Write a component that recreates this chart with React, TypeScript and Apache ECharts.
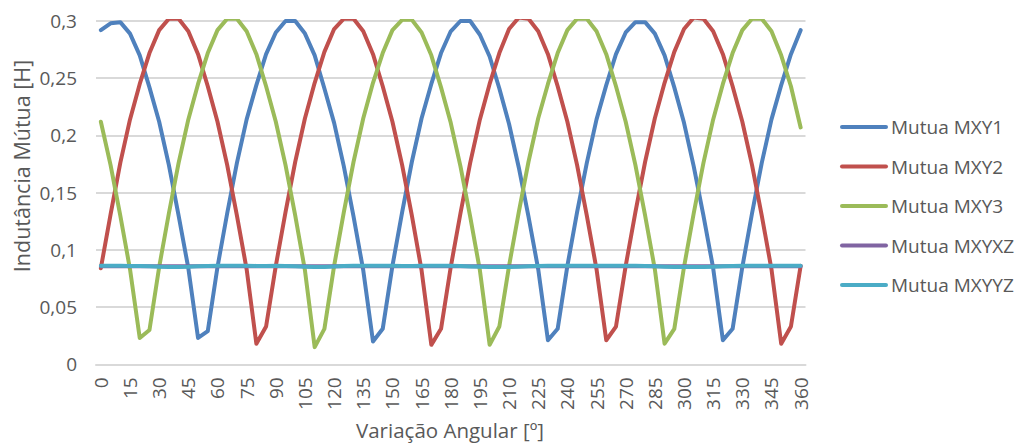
import React, { useEffect, useRef } from "react";
import * as echarts from "echarts";

// Rotor angle in degrees, one sample every 5°
const angles = [
  "0", "5", "10", "15", "20", "25", "30", "35", "40", "45",
  "50", "55", "60", "65", "70", "75", "80", "85", "90", "95",
  "100", "105", "110", "115", "120", "125", "130", "135", "140", "145",
  "150", "155", "160", "165", "170", "175", "180", "185", "190", "195",
  "200", "205", "210", "215", "220", "225", "230", "235", "240", "245",
  "250", "255", "260", "265", "270", "275", "280", "285", "290", "295",
  "300", "305", "310", "315", "320", "325", "330", "335", "340", "345",
  "350", "355", "360",
];

// Mutual inductances [H]
const mxy1 = [
  0.292, 0.298, 0.299, 0.289, 0.270, 0.242, 0.212, 0.174, 0.130, 0.084,
  0.023, 0.029, 0.085, 0.132, 0.176, 0.214, 0.244, 0.271, 0.290, 0.300,
  0.300, 0.289, 0.270, 0.241, 0.211, 0.173, 0.129, 0.082, 0.020, 0.031,
  0.086, 0.133, 0.177, 0.215, 0.245, 0.272, 0.291, 0.300, 0.300, 0.288,
  0.269, 0.241, 0.210, 0.172, 0.129, 0.083, 0.021, 0.031, 0.086, 0.133,
  0.176, 0.214, 0.244, 0.271, 0.290, 0.299, 0.299, 0.289, 0.270, 0.242,
  0.211, 0.173, 0.130, 0.084, 0.021, 0.031, 0.085, 0.132, 0.176, 0.214,
  0.244, 0.271, 0.292,
];

const mxy2 = [
  0.084, 0.131, 0.176, 0.214, 0.245, 0.272, 0.292, 0.302, 0.302, 0.291,
  0.271, 0.243, 0.212, 0.174, 0.130, 0.083, 0.018, 0.033, 0.086, 0.133,
  0.177, 0.215, 0.246, 0.273, 0.293, 0.302, 0.302, 0.291, 0.271, 0.243,
  0.212, 0.174, 0.130, 0.082, 0.017, 0.031, 0.085, 0.132, 0.176, 0.214,
  0.245, 0.272, 0.293, 0.303, 0.302, 0.291, 0.271, 0.243, 0.212, 0.174,
  0.130, 0.083, 0.021, 0.033, 0.086, 0.133, 0.177, 0.215, 0.246, 0.273,
  0.293, 0.303, 0.302, 0.291, 0.271, 0.243, 0.212, 0.174, 0.130, 0.083,
  0.018, 0.033, 0.086,
];

const mxy3 = [
  0.212, 0.174, 0.130, 0.083, 0.023, 0.030, 0.085, 0.132, 0.176, 0.214,
  0.245, 0.272, 0.292, 0.302, 0.302, 0.291, 0.271, 0.243, 0.212, 0.174,
  0.130, 0.082, 0.015, 0.031, 0.086, 0.133, 0.177, 0.215, 0.246, 0.272,
  0.292, 0.301, 0.301, 0.290, 0.270, 0.242, 0.211, 0.173, 0.129, 0.082,
  0.017, 0.033, 0.086, 0.133, 0.177, 0.215, 0.245, 0.272, 0.292, 0.302,
  0.302, 0.291, 0.271, 0.243, 0.212, 0.174, 0.130, 0.083, 0.018, 0.031,
  0.085, 0.132, 0.176, 0.214, 0.245, 0.272, 0.292, 0.302, 0.302, 0.291,
  0.270, 0.243, 0.207,
];

const mxyxz = [
  0.0857, 0.0857, 0.0857, 0.0857, 0.0856, 0.0856, 0.0856, 0.0856, 0.0856, 0.0856,
  0.0856, 0.0857, 0.0857, 0.0857, 0.0857, 0.0857, 0.0857, 0.0857, 0.0857, 0.0856,
  0.0856, 0.0856, 0.0856, 0.0856, 0.0856, 0.0857, 0.0857, 0.0857, 0.0857, 0.0857,
  0.0857, 0.0857, 0.0857, 0.0857, 0.0857, 0.0857, 0.0857, 0.0856, 0.0856, 0.0856,
  0.0856, 0.0856, 0.0856, 0.0856, 0.0856, 0.0857, 0.0857, 0.0857, 0.0857, 0.0857,
  0.0857, 0.0857, 0.0857, 0.0857, 0.0857, 0.0857, 0.0856, 0.0856, 0.0856, 0.0856,
  0.0856, 0.0856, 0.0856, 0.0856, 0.0856, 0.0857, 0.0857, 0.0857, 0.0857, 0.0857,
  0.0857, 0.0857, 0.0857,
];

const mxyyz = [
  0.0862, 0.0862, 0.0861, 0.0860, 0.0858, 0.0856, 0.0852, 0.0850, 0.0850, 0.0852,
  0.0856, 0.0860, 0.0862, 0.0862, 0.0862, 0.0861, 0.0860, 0.0860, 0.0861, 0.0860,
  0.0857, 0.0853, 0.0850, 0.0851, 0.0854, 0.0858, 0.0861, 0.0862, 0.0862, 0.0862,
  0.0861, 0.0860, 0.0860, 0.0861, 0.0862, 0.0862, 0.0861, 0.0858, 0.0855, 0.0852,
  0.0850, 0.0850, 0.0851, 0.0853, 0.0856, 0.0859, 0.0861, 0.0862, 0.0862, 0.0862,
  0.0861, 0.0861, 0.0862, 0.0862, 0.0862, 0.0861, 0.0859, 0.0856, 0.0853, 0.0851,
  0.0850, 0.0850, 0.0851, 0.0853, 0.0856, 0.0859, 0.0861, 0.0862, 0.0862, 0.0862,
  0.0862, 0.0862, 0.0862,
];

const seriesNames = ["Mutua MXY1", "Mutua MXY2", "Mutua MXY3", "Mutua MXYXZ", "Mutua MXYYZ"];
const seriesColors = ["#4F81BD", "#C0504D", "#9BBB59", "#8064A2", "#4BACC6"];
const seriesData = [mxy1, mxy2, mxy3, mxyxz, mxyyz];

const FONT = '"Open Sans", "Noto Sans", sans-serif';
const TEXT_COLOR = "#595959";
const GRID_COLOR = "#D9D9D9";

export default function App() {
  const ref = useRef<HTMLDivElement>(null);

  useEffect(() => {
    if (!ref.current) return;
    const chart = echarts.init(ref.current, undefined, { renderer: "svg" });
    chart.setOption({
      animation: false,
      backgroundColor: "#ffffff",
      textStyle: { fontFamily: FONT },
      grid: { left: 96, right: 213.5, top: 21, bottom: 78.7, containLabel: false },
      xAxis: {
        type: "category",
        data: angles,
        boundaryGap: true,
        axisLine: { show: true, lineStyle: { color: GRID_COLOR, width: 2 } },
        axisTick: { show: false },
        axisLabel: {
          interval: 2,
          rotate: 90,
          margin: 13,
          fontSize: 19,
          color: TEXT_COLOR,
          fontFamily: FONT,
        },
        splitLine: { show: false },
      },
      yAxis: {
        type: "value",
        min: 0,
        max: 0.3,
        interval: 0.05,
        axisLine: { show: false },
        axisTick: { show: false },
        axisLabel: {
          margin: 19,
          fontSize: 19,
          color: TEXT_COLOR,
          fontFamily: FONT,
          formatter: (v: number) => String(+v.toFixed(2)).replace(".", ","),
        },
        splitLine: { show: true, lineStyle: { color: GRID_COLOR, width: 2 } },
      },
      legend: {
        orient: "vertical",
        left: 840,
        top: 117,
        padding: 0,
        itemWidth: 48,
        itemHeight: 4,
        itemGap: 19.5,
        icon: "path://M2 0H46A2 2 0 0 1 46 4H2A2 2 0 0 1 2 0Z",
        textStyle: { fontSize: 19, color: TEXT_COLOR, fontFamily: FONT, lineHeight: 20, padding: [0, 0, 0, -2] },
        data: seriesNames,
      },
      graphic: [
        {
          type: "text",
          x: 450,
          y: 430,
          style: {
            text: "Variação Angular [º]",
            fontSize: 20.5,
            fontFamily: FONT,
            fill: TEXT_COLOR,
            align: "center",
            verticalAlign: "middle",
          },
        },
        {
          type: "text",
          x: 21,
          y: 166,
          rotation: Math.PI / 2,
          style: {
            text: "Indutância Mútua [H]",
            fontSize: 21.5,
            fontFamily: FONT,
            fill: TEXT_COLOR,
            align: "center",
            verticalAlign: "middle",
          },
        },
      ],
      series: seriesNames.map((name, k) => ({
        name,
        type: "line",
        data: seriesData[k],
        symbol: "none",
        smooth: false,
        color: seriesColors[k],
        lineStyle: { width: 4, color: seriesColors[k], cap: "round", join: "round" },
        emphasis: { disabled: true },
      })),
    });
    return () => chart.dispose();
  }, []);

  return (
    <div
      ref={ref}
      style={{ position: "fixed", left: 0, top: 0, width: 1019, height: 443, background: "#fff" }}
    />
  );
}
